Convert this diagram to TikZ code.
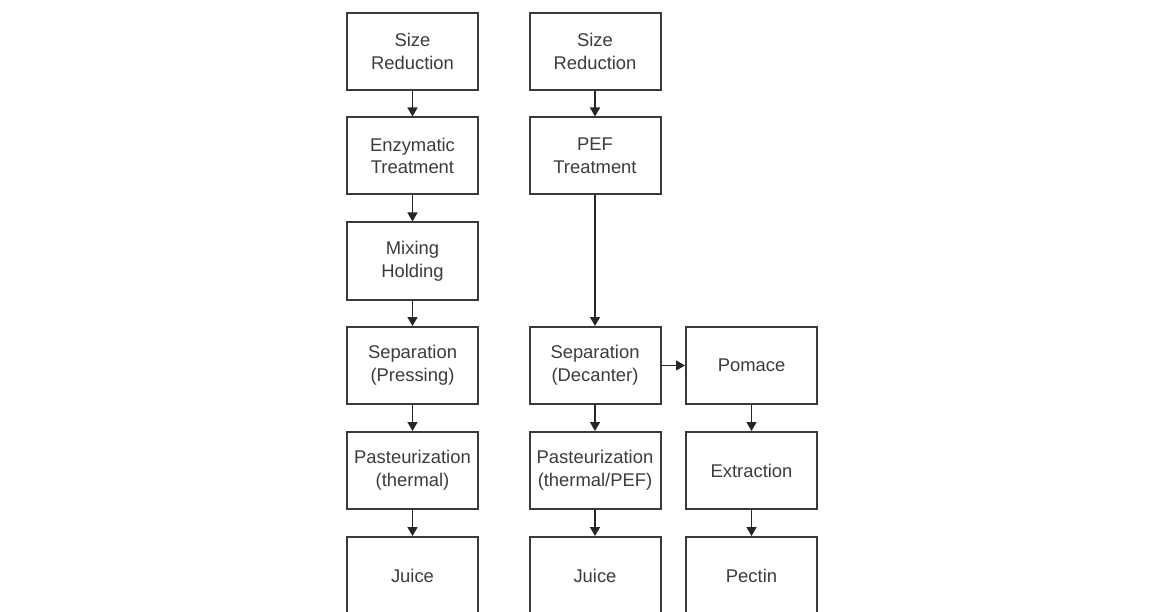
\documentclass[tikz,border=0pt]{standalone}
\usepackage{fontspec}
\setmainfont{Liberation Sans}
\usetikzlibrary{arrows.meta}
\definecolor{edgecol}{HTML}{3A3A3A}
\definecolor{txtcol}{HTML}{3C3C3C}
\begin{document}
\begin{tikzpicture}[x=1pt,y=-1pt,
  stepbox/.style={draw=edgecol, line width=2pt, fill=white, minimum width=131pt, minimum height=77pt,
    align=center, text=txtcol, font=\fontsize{18.4}{22.8}\selectfont, inner sep=0pt},
  flow/.style={draw=black!85, line width=1.5pt, -{Triangle[length=9pt,width=10pt]}}]
\useasboundingbox (0,0) rectangle (1150,612);
\clip (0,0) rectangle (1150,612);
% left column
\node[stepbox] (l1) at (412.5,51.5) {Size\\Reduction};
\node[stepbox] (l2) at (412.5,156) {Enzymatic\\Treatment};
\node[stepbox] (l3) at (412.5,261) {Mixing\\Holding};
\node[stepbox] (l4) at (412.5,365.5) {Separation\\(Pressing)};
\node[stepbox] (l5) at (412.5,470.5) {Pasteurization\\(thermal)};
\node[stepbox] (l6) at (412.5,575.5) {Juice};
% middle column
\node[stepbox] (m1) at (595,51.5) {Size\\Reduction};
\node[stepbox] (m2) at (595,156) {PEF\\Treatment};
\node[stepbox] (m4) at (595,365.5) {Separation\\(Decanter)};
\node[stepbox] (m5) at (595,470.5) {Pasteurization\\(thermal/PEF)};
\node[stepbox] (m6) at (595,575.5) {Juice};
% right column
\node[stepbox] (r4) at (751.5,365.5) {Pomace};
\node[stepbox] (r5) at (751.5,470.5) {Extraction};
\node[stepbox] (r6) at (751.5,575.5) {Pectin};
% connectors
\draw[flow] (l1) -- (l2);
\draw[flow] (l2) -- (l3);
\draw[flow] (l3) -- (l4);
\draw[flow] (l4) -- (l5);
\draw[flow] (l5) -- (l6);
\draw[flow] (m1) -- (m2);
\draw[flow] (m2) -- (m4);
\draw[flow] (m4) -- (m5);
\draw[flow] (m5) -- (m6);
\draw[flow] (m4) -- (r4);
\draw[flow] (r4) -- (r5);
\draw[flow] (r5) -- (r6);
\end{tikzpicture}
\end{document}
